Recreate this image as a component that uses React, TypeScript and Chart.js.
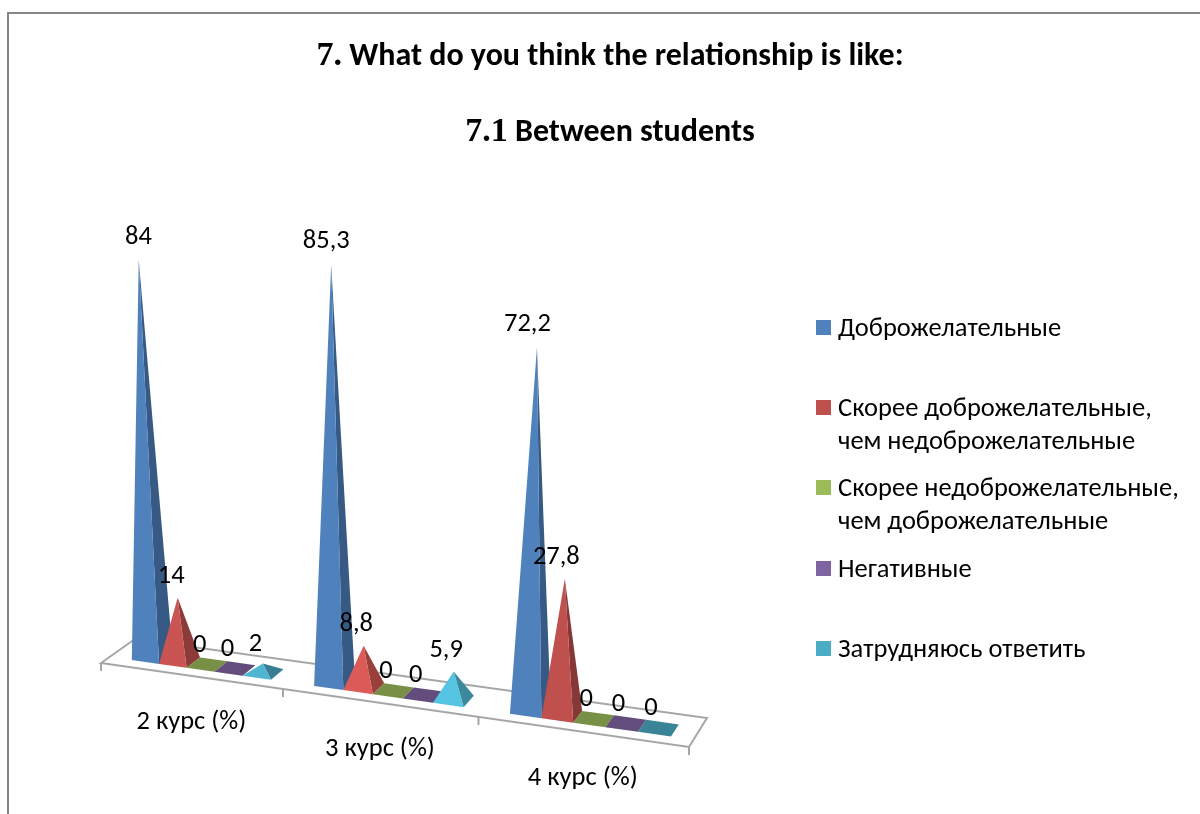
import React, { useEffect, useRef } from "react";
import { Chart, registerables } from "chart.js";

Chart.register(...registerables);

const courses = ["2 курс (%)", "3 курс (%)", "4 курс (%)"];
const friendly = [84, 85.3, 72.2];
const ratherFriendly = [14, 8.8, 27.8];
const ratherUnfriendly = [0, 0, 0];
const negative = [0, 0, 0];
const hardToSay = [2, 5.9, 0];
const seriesNames = [
  "Доброжелательные",
  "Скорее доброжелательные,\nчем недоброжелательные",
  "Скорее недоброжелательные,\nчем доброжелательные",
  "Негативные",
  "Затрудняюсь ответить",
];
const seriesColors = ["#4f81bd", "#c0504d", "#9bbb59", "#8064a2", "#4bacc6"];
const titleLines = [
  { lead: "7.", rest: " What do you think the relationship is like:" },
  { lead: "7.1", rest: " Between students" },
];

const SANS = "Carlito, Lato, 'Open Sans', sans-serif";
const SERIF = "'Liberation Serif', serif";
const TEXT = "#000000";
const GRID = "#a6a6a6";

const FLOOR = {
  fl: [101, 663], fr: [689, 747], br: [707, 718], bl: [135, 639],
  warp: -0.1035, v0: 0.24, v1: 0.66,
};

const shade = (hex: string, f: number) => {
  const n = parseInt(hex.slice(1), 16);
  const c = [(n >> 16) & 255, (n >> 8) & 255, n & 255].map((x) => Math.min(255, Math.round(x * f)));
  return `rgb(${c[0]},${c[1]},${c[2]})`;
};

const onFloor = (u: number, v: number): [number, number] => {
  const w = (u * (1 + FLOOR.warp)) / (1 + FLOOR.warp * u);
  const fx = FLOOR.fl[0] + (FLOOR.fr[0] - FLOOR.fl[0]) * w;
  const fy = FLOOR.fl[1] + (FLOOR.fr[1] - FLOOR.fl[1]) * w;
  const bx = FLOOR.bl[0] + (FLOOR.br[0] - FLOOR.bl[0]) * w;
  const by = FLOOR.bl[1] + (FLOOR.br[1] - FLOOR.bl[1]) * w;
  return [fx + (bx - fx) * v, fy + (by - fy) * v];
};

const poly = (ctx: CanvasRenderingContext2D, pts: number[][], fill: string) => {
  ctx.beginPath();
  pts.forEach((p, i) => (i ? ctx.lineTo(p[0], p[1]) : ctx.moveTo(p[0], p[1])));
  ctx.closePath();
  ctx.fillStyle = fill;
  ctx.fill();
};

const scene = {
  id: "scene",
  beforeDatasetsDraw(chart: any) {
    const ctx: CanvasRenderingContext2D = chart.ctx;
    const { chartArea: a, scales } = chart;
    const toU = (x: number) => (x - a.left) / (a.right - a.left);
    const onBase = (u: number, v: number): [number, number] => {
      const p = onFloor(u, v);
      return [p[0] + 2.5, p[1]];
    };
    ctx.save();

    // page frame
    ctx.strokeStyle = "#868686";
    ctx.lineWidth = 2;
    ctx.beginPath();
    ctx.moveTo(8, 814);
    ctx.lineTo(8, 13);
    ctx.lineTo(1200, 13);
    ctx.stroke();

    // title
    ctx.fillStyle = TEXT;
    ctx.textBaseline = "alphabetic";
    ctx.textAlign = "left";
    titleLines.forEach((t, i) => {
      const sans = `bold 32px ${SANS}`;
      const serif = `bold 34px ${SERIF}`;
      ctx.font = sans;
      const wr = ctx.measureText(t.rest).width;
      ctx.font = serif;
      const wl = ctx.measureText(t.lead).width;
      const x = 610 - (wl + wr) / 2;
      const y = 65 + i * 76;
      ctx.fillText(t.lead, x, y);
      ctx.font = sans;
      ctx.fillText(t.rest, x + wl, y);
    });

    // floor
    ctx.strokeStyle = GRID;
    ctx.lineWidth = 2;
    ctx.beginPath();
    ctx.moveTo(FLOOR.fl[0], FLOOR.fl[1]);
    ctx.lineTo(FLOOR.fr[0], FLOOR.fr[1]);
    ctx.lineTo(FLOOR.br[0], FLOOR.br[1]);
    ctx.lineTo(FLOOR.bl[0], FLOOR.bl[1]);
    ctx.closePath();
    ctx.stroke();
    const n = courses.length;
    for (let i = 0; i <= n; i++) {
      const [x, y] = onFloor(i / n, 0);
      ctx.beginPath();
      ctx.moveTo(x, y);
      ctx.lineTo(x, y + 8);
      ctx.stroke();
    }

    // category labels
    ctx.font = `26.5px ${SANS}`;
    ctx.textAlign = "center";
    ctx.textBaseline = "middle";
    ctx.fillStyle = TEXT;
    courses.forEach((c, i) => {
      const [x, y] = onFloor(toU(scales.x.getPixelForValue(i)), 0);
      ctx.fillText(c, x + 1, y + 47);
    });

    // pyramids
    const labels: { t: string; x: number; y: number }[] = [];
    chart.data.datasets.forEach((ds: any, d: number) => {
      const meta = chart.getDatasetMeta(d);
      meta.data.forEach((bar: any, i: number) => {
        const value = ds.data[i];
        const u0 = toU(bar.x - bar.width / 2);
        const u1 = toU(bar.x + bar.width / 2);
        const uc = (u0 + u1) / 2;
        const fl = onBase(u0, FLOOR.v0);
        const fr = onBase(u1, FLOOR.v0);
        const br = onBase(u1, FLOOR.v1);
        const bl = onBase(u0, FLOOR.v1);
        const c = onBase(uc, 0.45);
        const raw = scales.y.getPixelForValue(0) - scales.y.getPixelForValue(value);
        const h = raw * (0.88 + 0.1 * uc + 0.0007 * value);
        const ax = c[0] + (h / 394) * (-15.5 + 31 * uc);
        const ay = c[1] - h;
        if (value === 0) {
          poly(ctx, [fl, fr, br, bl], shade(ds.backgroundColor, 0.77));
        } else {
          const bright = value > 3 && value < 12 ? 1.14 : value < 20 ? 1.05 : 1;
          poly(ctx, [fr, br, [ax, ay]], shade(ds.backgroundColor, 0.7 * bright));
          poly(ctx, [fl, fr, [ax, ay]], shade(ds.backgroundColor, bright));
        }
        const tall = (h / 394) * (8 - 14 * uc);
        labels.push({
          t: String(value).replace(".", ","),
          x: ax - 7.5 + tall,
          y: ay - (value < 3 ? 19.5 : value < 60 ? 21 : 23),
        });
      });
    });

    // value labels
    ctx.font = `26.5px ${SANS}`;
    ctx.fillStyle = TEXT;
    labels.forEach((l) => ctx.fillText(l.t, l.x, l.y));

    // legend
    ctx.textAlign = "left";
    const rows = [329, 409, 489, 570, 650];
    seriesNames.forEach((name, i) => {
      ctx.fillStyle = seriesColors[i];
      ctx.fillRect(816, rows[i] - 9, 15, 15);
      ctx.fillStyle = TEXT;
      name.split("\n").forEach((line, k) => ctx.fillText(line, 838, rows[i] + k * 33));
    });

    ctx.restore();
    return false;
  },
};

export default function App() {
  const ref = useRef<HTMLCanvasElement>(null);
  useEffect(() => {
    document.body.style.margin = "0";
    const series = [friendly, ratherFriendly, ratherUnfriendly, negative, hardToSay];
    const chart = new Chart(ref.current!, {
      type: "bar",
      data: {
        labels: courses,
        datasets: series.map((data, i) => ({
          label: seriesNames[i],
          data,
          backgroundColor: seriesColors[i],
          categoryPercentage: 0.77,
          barPercentage: 1,
        })),
      },
      options: {
        responsive: false,
        animation: false,
        layout: { padding: { left: 101, right: 511, top: 150, bottom: 164 } },
        plugins: { legend: { display: false }, title: { display: false }, tooltip: { enabled: false } },
        scales: {
          x: { display: false },
          y: { display: false, min: 0, max: 100 },
        },
      },
      plugins: [scene],
    } as any);
    return () => chart.destroy();
  }, []);
  return <canvas ref={ref} width={1200} height={814} style={{ display: "block" }} />;
}
